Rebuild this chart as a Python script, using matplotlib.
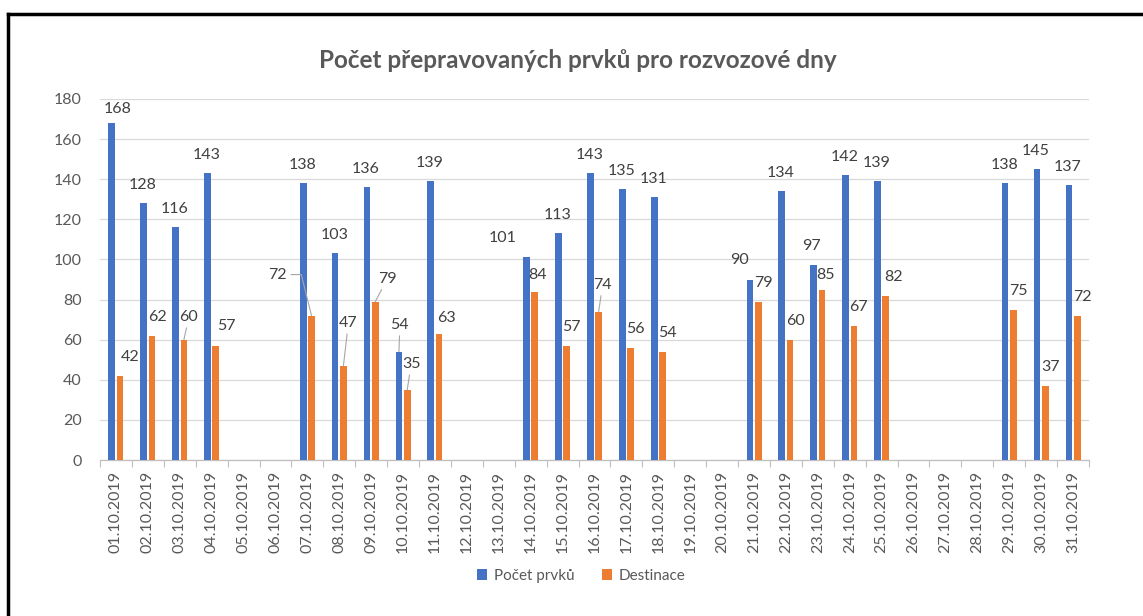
import numpy as np
import matplotlib
matplotlib.use("Agg")
import matplotlib.pyplot as plt
from matplotlib.patches import Patch
from matplotlib.lines import Line2D

plt.rcParams['font.family'] = ['Lato', 'DejaVu Sans']

# data
dates = ['%02d.10.2019' % d for d in range(1, 32)]
nan = np.nan
pocet_prvku = [168, 128, 116, 143, nan, nan, 138, 103, 136, 54, 139, nan, nan, 101, 113,
               143, 135, 131, nan, nan, 90, 134, 97, 142, 139, nan, nan, nan, 138, 145, 137]
destinace = [42, 62, 60, 57, nan, nan, 72, 47, 79, 35, 63, nan, nan, 84, 57,
             74, 56, 54, nan, nan, 79, 60, 85, 67, 82, nan, nan, nan, 75, 37, 72]

title = 'Počet přepravovaných prvků pro rozvozové dny'
series_names = ['Počet prvků', 'Destinace']
colors = ['#4472C4', '#ED7D31']
text_col = '#595959'

# label placement (pixel offsets from bar top), manually moved labels as in the original
blue_off = {0: (6, 14), 13: (-24, 19), 20: (-10, 19), 22: (-2, 19), 9: (1, 27)}
orange_off = {0: (10, 19), 2: (5, 23), 3: (11, 20), 6: (-34, 41), 7: (5, 43), 8: (12, 23),
              9: (4, 26), 10: (7, 16), 13: (3, 17), 15: (4, 27), 22: (4, 15), 24: (8, 19)}
blue_leader = {9}
orange_leader = {2, 7, 8, 9, 15}
orange_elbow = {6}

fig = plt.figure(figsize=(11.43, 6.16), dpi=100)
ax = fig.add_axes([100 / 1143, 1 - 460 / 616, 989 / 1143, 361 / 616])

x = np.arange(len(dates))
w = 0.21
off = 0.13
ax.bar(x - off, pocet_prvku, w, color=colors[0], zorder=3)
ax.bar(x + off, destinace, w, color=colors[1], zorder=3)

lead = dict(arrowstyle='-', color='#A6A6A6', lw=0.8, shrinkA=1, shrinkB=0)
for i in range(len(dates)):
    for vals, sign, offs, leaders, col in ((pocet_prvku, -1, blue_off, blue_leader, 0),
                                           (destinace, 1, orange_off, orange_leader, 1)):
        v = vals[i]
        if np.isnan(v):
            continue
        dflt = (-1, 18) if col == 0 else (5, 19)
        dx, dy = offs.get(i, dflt)
        kw = {}
        if i in leaders:
            kw['arrowprops'] = lead
        if col == 1 and i in orange_elbow:
            kw['arrowprops'] = dict(lead, connectionstyle='angle,angleA=0,angleB=104,rad=0')
        ax.annotate('%d' % v, xy=(i + sign * off, v), xytext=(dx, dy),
                    textcoords='offset pixels', ha='center', va='center',
                    fontsize=11.5, color='#404040', zorder=4, **kw)

ax.set_xlim(-0.5, len(dates) - 0.5)
ax.set_ylim(0, 180)
ax.set_yticks(np.arange(0, 181, 20))
ax.set_xticks(x)
ax.set_xticklabels(dates, rotation=90, fontsize=11.5, color=text_col)
ax.set_xticks(np.arange(-0.5, len(dates), 1), minor=True)
ax.tick_params(axis='x', which='major', length=0, pad=8)
ax.tick_params(axis='x', which='minor', length=5, color='#BFBFBF', width=0.8)
ax.tick_params(axis='y', length=0, pad=13, labelsize=11.5, labelcolor=text_col)
ax.grid(axis='y', color='#D9D9D9', lw=0.9, zorder=0)
for s in ['top', 'right', 'left']:
    ax.spines[s].set_visible(False)
ax.spines['bottom'].set_color('#BFBFBF')
ax.spines['bottom'].set_linewidth(0.9)

fig.text(578 / 1143, 1 - 60 / 616, title, ha='center', va='center',
         fontsize=17.5, fontweight='bold', color=text_col)

handles = [Patch(facecolor=c) for c in colors]
fig.legend(handles, series_names, loc='center', bbox_to_anchor=(581 / 1143, 1 - 576 / 616),
           ncol=2, frameon=False, fontsize=11, labelcolor=text_col,
           handlelength=0.7, handleheight=0.7, handletextpad=0.4, columnspacing=1.8)

# black frame (left and top edges visible)
fig.add_artist(Line2D([8 / 1143, 8 / 1143], [0, 1 - 14 / 616], color='black', lw=2.5,
                      transform=fig.transFigure))
fig.add_artist(Line2D([8 / 1143, 1], [1 - 14 / 616, 1 - 14 / 616], color='black', lw=2.5,
                      transform=fig.transFigure))

fig.savefig('out.png', dpi=100)
